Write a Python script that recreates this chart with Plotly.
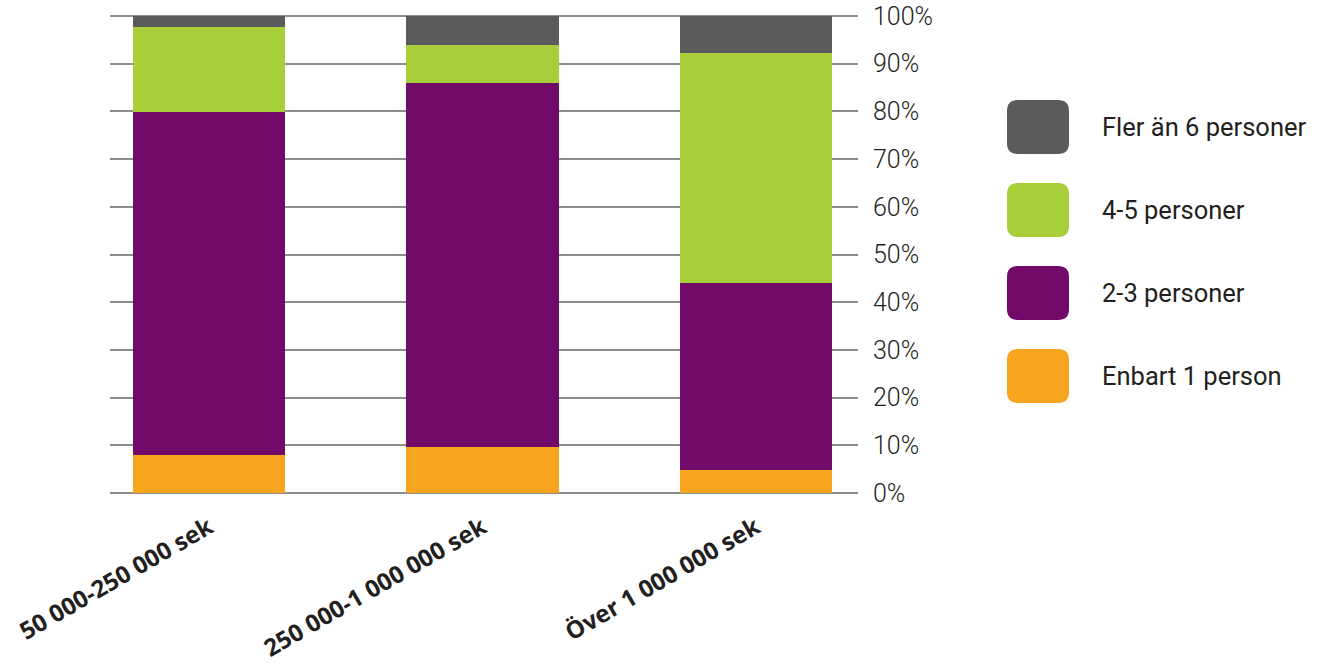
import plotly.graph_objects as go

# Omsättningsklasser och andel företag per antal personer (procent)
categories = ["50 000-250 000 sek", "250 000-1 000 000 sek", "Över 1 000 000 sek"]
series_names = ["Enbart 1 person", "2-3 personer", "4-5 personer", "Fler än 6 personer"]
enbart_1 = [7.9, 9.7, 4.9]
pers_2_3 = [71.9, 76.2, 39.2]
pers_4_5 = [17.8, 8.0, 48.1]
fler_6 = [2.4, 6.1, 7.8]
tick_vals = [0, 10, 20, 30, 40, 50, 60, 70, 80, 90, 100]
tick_text = [f"{v}%" for v in tick_vals]

colors = ["#f7a41e", "#720a69", "#a8ce3a", "#5a5b5d"]
values = [enbart_1, pers_2_3, pers_4_5, fler_6]

fig = go.Figure()
for name, vals, col in zip(series_names, values, colors):
    fig.add_trace(go.Bar(x=categories, y=vals, name=name, marker_color=col,
                         marker_line_width=0, showlegend=False))

# Plot area geometry in pixels (used to place the custom legend)
W, H = 1320, 665
L, R, T, B = 110, 462, 13, 169
pw, ph = W - L - R, H - T - B
Y0, Y1 = -0.6, 100.6


def px_to_paper(x, y):
    return (x - L) / pw, (H - B - y) / ph


def rounded_rect(x0, y0, x1, y1, r):
    def p(x, y):
        px, py = px_to_paper(x, y)
        return f"{px:.5f},{py:.5f}"
    return (f"M {p(x0 + r, y0)} L {p(x1 - r, y0)} Q {p(x1, y0)} {p(x1, y0 + r)} "
            f"L {p(x1, y1 - r)} Q {p(x1, y1)} {p(x1 - r, y1)} "
            f"L {p(x0 + r, y1)} Q {p(x0, y1)} {p(x0, y1 - r)} "
            f"L {p(x0, y0 + r)} Q {p(x0, y0)} {p(x0 + r, y0)} Z")


shapes = []
annotations = []
legend_centers = [376, 293, 210, 127]  # bottom series listed first
for name, col, cy in zip(series_names, colors, legend_centers):
    shapes.append(dict(type="path", xref="paper", yref="paper",
                       path=rounded_rect(1007, cy - 27, 1069, cy + 27, 11),
                       fillcolor=col, line=dict(width=0)))
    ax, ay = px_to_paper(1100, cy)
    annotations.append(dict(xref="paper", yref="paper", x=ax, y=ay, text=name,
                            showarrow=False, xanchor="left", yanchor="middle",
                            font=dict(family="Roboto", size=25.5, color="#231f20",
                                      weight=400)))

fig.update_layout(
    barmode="stack",
    bargap=0.444,
    width=W, height=H,
    margin=dict(l=L, r=R, t=T, b=B, autoexpand=False),
    paper_bgcolor="white",
    plot_bgcolor="white",
    shapes=shapes,
    annotations=annotations,
    xaxis=dict(
        type="category",
        range=[-0.362, 2.373],
        tickangle=-30,
        tickfont=dict(family="Open Sans", size=24, color="#231f20", weight="bold"),
        ticklabelstandoff=12,
        automargin=False,
        showgrid=False, zeroline=False, showline=False, ticks="",
    ),
    yaxis=dict(
        side="right",
        range=[Y0, Y1],
        tickvals=tick_vals,
        ticktext=tick_text,
        tickfont=dict(family="Roboto", size=25, color="#231f20", weight=300),
        ticklabelstandoff=14,
        automargin=False,
        showgrid=True, gridcolor="#8c8c8c", gridwidth=1.5,
        zeroline=False, showline=False, ticks="",
    ),
)

fig.write_html("out.html")
